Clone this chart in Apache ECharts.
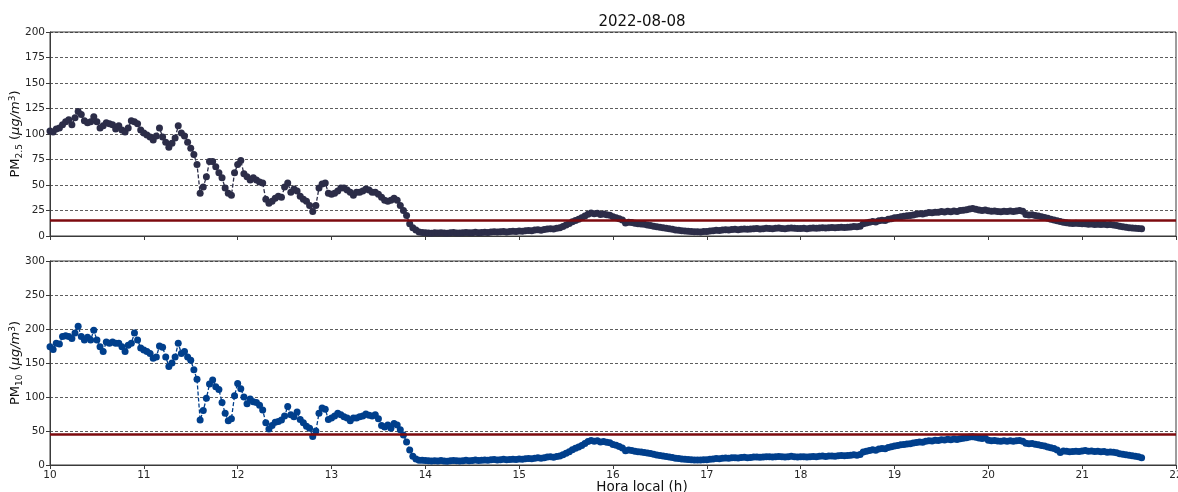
<!DOCTYPE html>
<html>
<head>
<meta charset="utf-8">
<script src="https://cdn.jsdelivr.net/npm/echarts@6/dist/echarts.min.js"></script>
<style>
  html, body { margin: 0; padding: 0; background: #ffffff; }
  #chart { width: 1178px; height: 492px; }
</style>
</head>
<body>
<div id="chart"></div>
<script>
// Air-quality record for one day: PM2.5 and PM10 sampled every 2 minutes.
const chartTitle = '2022-08-08';
const xAxisTitle = 'Hora local (h)';
const startHour = 10;
const stepMinutes = 2;

// PM2.5 (µg/m³), one row per hour from 10 h
const pm25 = [
  103,102,105,106,109,112,114,109,116,122,119,113,111,112,117,112,106,108,111,110,109,105,108,104,102,106,113,112,110,104,
  101,99,97,94,98,106,97,92,87,91,96,108,101,98,92,86,80,70,42,48,58,73,73,68,62,57,47,42,40,62,
  70,74,61,58,55,57,55,53,52,36,32,34,37,39,38,48,52,43,46,44,39,36,34,30,24,30,47,51,52,42,
  41,42,44,47,47,45,43,40,43,43,44,46,45,43,43,41,38,35,34,35,37,35,30,25,20,12,8,6,4,3.5,
  3.2,3.0,2.8,3.1,2.9,3.3,3.0,2.7,3.1,3.4,3.0,2.9,3.2,3.5,3.1,3.3,3.6,3.2,3.4,3.7,3.5,3.9,4.2,3.8,4.1,4.4,4.0,4.3,4.6,4.4,
  4.8,4.6,5.1,5.5,5.2,5.8,6.1,5.7,6.3,6.9,7.2,6.8,7.6,8.2,9.2,10.8,12.2,14.0,15.3,16.4,17.8,19.6,21.4,22.5,21.8,22.4,21.1,21.6,20.8,20.4,
  18.8,18.0,16.9,15.6,12.8,13.5,13.2,12.6,12.1,11.8,11.4,10.9,10.3,9.6,9.0,8.5,8.0,7.6,7.1,6.5,6.0,5.6,5.2,4.9,4.6,4.3,4.1,4.2,4.0,4.3,
  4.5,4.9,5.2,5.6,5.4,5.9,6.1,5.8,6.3,6.5,6.2,6.6,6.9,6.5,6.8,7.1,7.3,6.9,7.2,7.5,7.4,7.1,7.6,7.8,7.4,7.2,7.6,7.9,7.5,7.3,
  7.4,7.6,7.2,7.5,7.8,7.6,7.9,8.2,7.8,8.1,8.3,8.0,8.4,8.7,8.3,8.6,8.9,9.3,9.0,9.6,12.1,12.8,13.6,14.1,13.8,14.9,15.5,15.2,16.4,17.0,
  17.8,18.2,18.9,19.3,19.8,20.1,20.6,21.3,21.8,21.5,22.4,23.0,22.7,23.4,23.2,24.0,23.6,24.3,23.8,24.5,24.1,24.9,25.3,25.7,26.4,26.9,26.2,25.6,25.1,25.5,
  24.8,24.2,24.6,24.0,23.7,24.3,23.9,24.5,24.1,24.6,24.9,24.3,21.2,20.6,20.8,20.1,19.7,18.8,18.2,17.4,16.5,15.8,14.9,14.2,13.4,12.9,12.5,12.2,12.6,12.3,
  11.9,12.1,11.6,11.8,11.3,11.6,11.2,11.5,11.0,11.2,10.8,10.4,9.6,9.1,8.7,8.2,7.9,7.6,7.3,7.0
];

// PM10 (µg/m³), same sampling
const pm10 = [
  174,170,179,178,189,190,189,186,194,204,189,184,188,184,198,184,174,167,181,179,181,179,179,174,167,176,179,194,184,172,
  169,167,164,157,159,175,173,159,145,150,159,179,164,167,159,154,140,126,66,80,98,119,125,115,111,92,76,65,68,102,
  120,112,100,90,97,93,92,88,81,62,53,58,63,64,66,72,86,74,71,78,67,62,57,54,42,50,76,84,82,67,
  69,72,76,74,71,69,65,69,69,71,72,75,73,72,74,68,58,56,59,54,61,59,52,44,34,22,13,9,7,7,
  6.5,6.1,5.8,6.3,5.9,6.6,6.0,5.6,6.2,6.8,6.1,5.9,6.4,7.0,6.3,6.7,7.2,6.5,6.9,7.4,7.1,7.6,8.0,7.4,7.9,8.3,7.7,8.1,8.6,8.2,
  8.8,8.4,9.1,9.6,9.2,10.1,10.5,9.9,10.8,11.6,12.0,11.4,12.5,13.4,15.0,17.2,19.5,22.4,24.6,26.5,28.8,31.5,34.4,36.0,34.9,35.8,33.9,34.6,33.3,32.6,
  30.1,28.9,27.1,25.1,20.8,21.9,21.4,20.4,19.6,19.1,18.5,17.7,16.8,15.7,14.8,14.0,13.2,12.6,11.8,10.9,10.1,9.5,8.9,8.4,8.0,7.6,7.3,7.5,7.2,7.6,
  7.9,8.5,8.9,9.5,9.2,9.9,10.2,9.8,10.5,10.8,10.4,10.9,11.3,10.8,11.2,11.6,11.9,11.3,11.8,12.2,12.0,11.6,12.3,12.6,12.0,11.7,12.3,12.7,12.2,11.9,
  12.0,12.3,11.8,12.2,12.6,12.3,12.7,13.2,12.6,13.1,13.4,13.0,13.6,14.0,13.5,13.9,14.3,14.9,14.5,15.4,19.2,20.3,21.5,22.3,21.8,23.5,24.4,24.0,25.8,26.7,
  27.9,28.5,29.6,30.2,31.0,31.4,32.2,33.2,34.0,33.5,34.9,35.8,35.3,36.4,36.1,37.3,36.7,37.8,37.0,38.1,37.5,38.7,39.3,39.9,41.0,41.7,40.7,39.8,39.0,39.6,
  36.5,35.8,36.2,35.3,34.8,35.5,34.9,35.6,35.0,35.7,36.0,35.1,32.0,31.2,31.5,30.6,29.9,28.7,27.8,26.6,25.4,24.3,22.2,18.4,20.6,20.1,19.5,19.9,20.4,19.8,
  20.6,21.2,20.3,20.7,19.9,20.4,19.6,20.0,18.9,19.3,18.6,17.9,16.6,15.7,15.0,14.2,13.6,13.0,12.1,10.6
];

// Reference limits drawn as horizontal lines
const pm25Limit = 15;
const pm10Limit = 45;

// Axis ranges
const hourMin = 10, hourMax = 22, hourStep = 1;
const pm25Max = 200, pm25Step = 25;
const pm10Max = 300, pm10Step = 50;

const hours = pm25.map((_, i) => startHour + (i * stepMinutes) / 60);

const FONT = 'DejaVu Sans';
const INK = '#262626';
const COLOR_25 = '#2c2d48';
const COLOR_10 = '#003f8c';
const LIMIT_COLOR = '#7d0a0e';

const gridBox = {
  left: 50, width: 1126, height: 204,
  show: true, borderColor: '#3a3a3a', borderWidth: 1,
  containLabel: false, outerBoundsMode: 'none'
};

function xAxis(gridIndex, withLabels) {
  return {
    type: 'value', gridIndex, min: hourMin, max: hourMax, interval: hourStep,
    axisLine: { show: true, onZero: false, lineStyle: { color: '#3a3a3a', width: 1 } },
    axisTick: { show: true, length: 4, lineStyle: { color: '#3a3a3a', width: 1 } },
    axisLabel: { show: withLabels, color: INK, fontFamily: FONT, fontSize: 10.5, margin: 5 },
    splitLine: { show: false }
  };
}

function yAxis(gridIndex, max, step, sub) {
  return {
    type: 'value', gridIndex, min: 0, max, interval: step,
    axisLine: { show: true, lineStyle: { color: '#3a3a3a', width: 1 } },
    axisTick: { show: true, length: 4, lineStyle: { color: '#3a3a3a', width: 1 } },
    axisLabel: { color: INK, fontFamily: FONT, fontSize: 10.5, margin: 5 },
    splitLine: { show: true, lineStyle: { color: '#333', width: 0.8, type: [3, 2] } },
    name: '{a|PM}{s|' + sub + '}{a| (}{i|μg/m}{p|3}{a|)}',
    nameLocation: 'middle', nameRotate: 90, nameGap: 26, nameMoveOverlap: false,
    nameTextStyle: {
      color: '#111', fontFamily: FONT,
      rich: {
        a: { fontSize: 13, fontFamily: FONT, color: '#111', lineHeight: 16 },
        i: { fontSize: 13, fontFamily: FONT, fontStyle: 'italic', color: '#111', lineHeight: 16 },
        s: { fontSize: 9, fontFamily: FONT, color: '#111', lineHeight: 9, verticalAlign: 'bottom' },
        p: { fontSize: 9, fontFamily: FONT, color: '#111', lineHeight: 9, verticalAlign: 'top' }
      }
    }
  };
}

function pmSeries(idx, values, color, limit) {
  return {
    type: 'line', xAxisIndex: idx, yAxisIndex: idx,
    data: hours.map((h, i) => [h, values[i]]),
    symbol: 'circle', symbolSize: 7, showAllSymbol: true,
    itemStyle: { color },
    lineStyle: { color, width: 1.3, type: [4, 2] },
    emphasis: { disabled: true },
    markLine: {
      silent: true, symbol: 'none', animation: false,
      label: { show: false },
      lineStyle: { color: LIMIT_COLOR, width: 2.5, type: 'solid' },
      data: [{ yAxis: limit }]
    }
  };
}

const chart = echarts.init(document.getElementById('chart'), null, { renderer: 'canvas' });
chart.setOption({
  animation: false,
  backgroundColor: '#ffffff',
  textStyle: { fontFamily: FONT },
  graphic: [
    {
      type: 'text', x: 642, y: 22, silent: true,
      style: { text: chartTitle, fontFamily: FONT, fontSize: 15, fill: '#111', align: 'center', verticalAlign: 'middle' }
    },
    {
      type: 'text', x: 642, y: 487, silent: true,
      style: { text: xAxisTitle, fontFamily: FONT, fontSize: 13.5, fill: '#111', align: 'center', verticalAlign: 'middle' }
    }
  ],
  grid: [
    Object.assign({ top: 32 }, gridBox),
    Object.assign({ top: 261 }, gridBox)
  ],
  xAxis: [xAxis(0, false), xAxis(1, true)],
  yAxis: [yAxis(0, pm25Max, pm25Step, '2.5'), yAxis(1, pm10Max, pm10Step, '10')],
  series: [
    pmSeries(0, pm25, COLOR_25, pm25Limit),
    pmSeries(1, pm10, COLOR_10, pm10Limit)
  ]
});
</script>
</body>
</html>
